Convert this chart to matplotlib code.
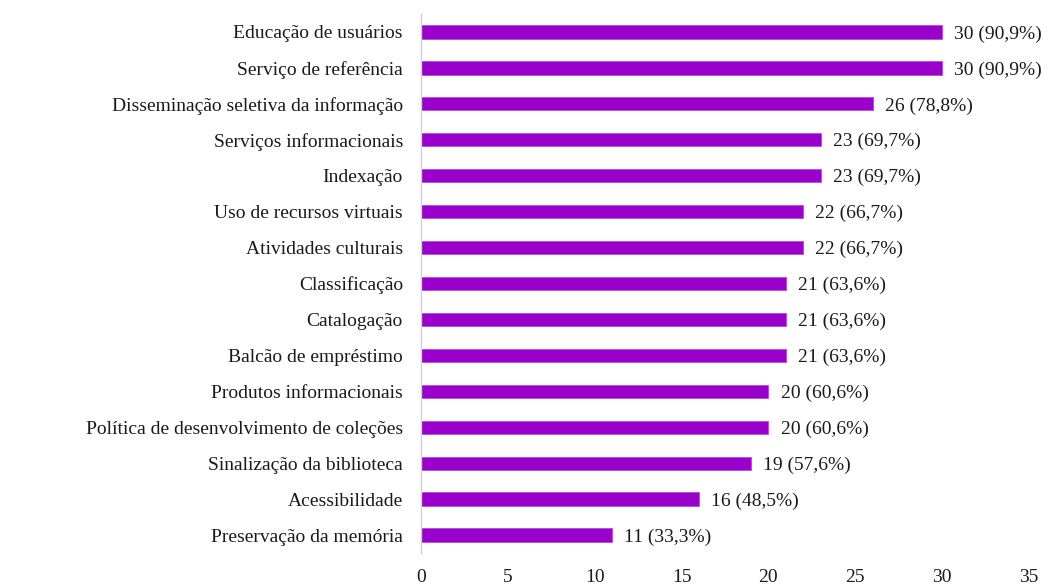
import matplotlib
matplotlib.use("Agg")
import matplotlib.pyplot as plt

categories = ["Educação de usuários", "Serviço de referência",
              "Disseminação seletiva da informação", "Serviços informacionais",
              "Indexação", "Uso de recursos virtuais", "Atividades culturais",
              "Classificação", "Catalogação", "Balcão de empréstimo",
              "Produtos informacionais", "Política de desenvolvimento de coleções",
              "Sinalização da biblioteca", "Acessibilidade", "Preservação da memória"]
values = [30, 30, 26, 23, 23, 22, 22, 21, 21, 21, 20, 20, 19, 16, 11]
percents = ["90,9%", "90,9%", "78,8%", "69,7%", "69,7%", "66,7%", "66,7%",
            "63,6%", "63,6%", "63,6%", "60,6%", "60,6%", "57,6%", "48,5%", "33,3%"]
xticks = [0, 5, 10, 15, 20, 25, 30, 35]

plt.rcParams['font.family'] = ['Liberation Serif', 'DejaVu Serif']
FS = 14

fig = plt.figure(figsize=(10.62, 5.84), dpi=100)
ax = fig.add_axes([421/1062, 1 - 553/584, (1029 - 421)/1062, (553 - 14)/584])

n = len(categories)
ypos = list(range(n - 1, -1, -1))
ax.barh(ypos, values, height=0.37, color='#9900CC', edgecolor='#B04FD8', linewidth=0.6)
for y, v, p in zip(ypos, values, percents):
    ax.text(v + 0.7, y, f"{v} ({p})", va='center_baseline', ha='left', fontsize=FS, color='#1a1a1a')

ax.set_yticks(ypos)
ax.set_yticklabels(categories, fontsize=FS, color='#1a1a1a')
ax.set_xticks(xticks)
ax.set_xticklabels([str(t) for t in xticks], fontsize=FS, color='#1a1a1a')
ax.set_xlim(0, 35)
ax.set_ylim(-0.5, n - 0.5)
for s in ['top', 'right', 'bottom']:
    ax.spines[s].set_visible(False)
ax.spines['left'].set_color('#D0D0D0')
ax.spines['left'].set_linewidth(1.0)
ax.tick_params(axis='both', length=0)
ax.tick_params(axis='y', pad=13)
ax.tick_params(axis='x', pad=11.5)

fig.savefig("out.png", dpi=100)
